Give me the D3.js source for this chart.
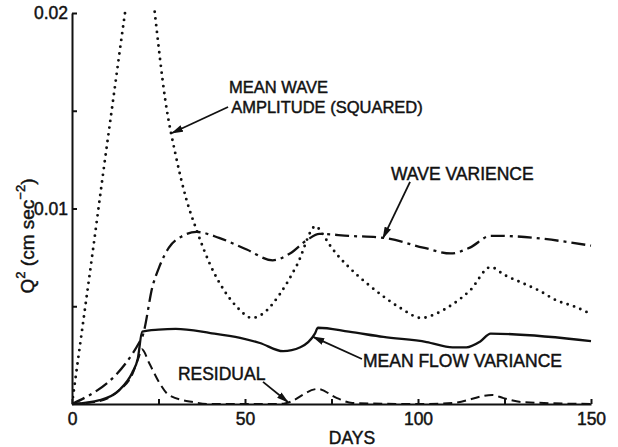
<!DOCTYPE html>
<html><head><meta charset="utf-8">
<script src="https://cdn.jsdelivr.net/npm/d3@7"></script>
<style>
html,body{margin:0;padding:0;background:#fff;}
text{font-family:"Liberation Sans",Arial,sans-serif;fill:#111;stroke:#111;stroke-width:0.45px;}
</style></head>
<body><svg id="c" width="618" height="447"></svg>
<script>
// ---- data (days, Q^2 in cm^2 sec^-2) ----
const waveAmpDays = [0,3,6,9,12,15,18,20,22,24,27,30,33,36,40,44,48,52,55,60,65,70.5,72,75,80,85,90,95,101,105,110,115,121,125,130,135,140,145,150];
const waveAmpVals = [0,0.0039,0.0078,0.0118,0.0157,0.0196,0.0232,0.025,0.0232,0.0199,0.0155,0.0127,0.0105,0.0089,0.0071,0.0058,0.0049,0.0044,0.0046,0.0056,0.0071,0.0091,0.0088,0.0080,0.0070,0.0062,0.0055,0.0049,0.0044,0.0046,0.0051,0.0058,0.0070,0.0066,0.0062,0.0058,0.0053,0.0050,0.0046];

const waveVarDays = [0,20.2,23.4,25.2,28,32,36,42.5,50.5,58,63,68,71.5,80,90,101.5,109.5,115,121,123,150];
const waveVarVals = [0,0.0034,0.0061,0.0070,0.0080,0.0086,0.0088,0.0085,0.0079,0.00735,0.0077,0.0084,0.0087,0.0086,0.0085,0.0080,0.0077,0.0080,0.0086,0.0086,0.0081];

const meanFlowDays = [0,8,13.6,17.4,19,20.3,25,30,40,48.6,54.3,61,66,70.2,71.1,80,90,102.5,110,114,118,121,150];
const meanFlowVals = [0,0.0002,0.0007,0.0016,0.0023,0.0037,0.0038,0.00384,0.00363,0.00338,0.00312,0.0027,0.0029,0.0036,0.0039,0.0037,0.00343,0.00317,0.0029,0.0029,0.0032,0.0036,0.00322];

const residualDays = [0,8,13.6,17.4,19.3,20.2,22.3,25.2,28,35,40,60,62,71,76.6,81,100,110,121.5,124.7,130,150];
const residualVals = [0,0.00015,0.0007,0.0015,0.0024,0.0028,0.0021,0.0011,0.00046,0.0001,0,0,0.00005,0.00077,0.0003,0.00005,0,0.00005,0.00046,0.0003,0.0001,0];

const xTicks = [0,25,50,75,100,125,150];
const xTickLabels = ["0","","50","","100","","150"];
const yTicks = [0.005,0.01,0.015,0.02];
const yTickLabels = ["","0.01","","0.02"];

const labelTexts = ["MEAN WAVE","AMPLITUDE (SQUARED)","WAVE VARIENCE","MEAN FLOW VARIANCE","RESIDUAL"];
const labelDays  = [45.4,46.0,92.2,84.1,30.6];
const labelVals  = [0.01591,0.01489,0.01146,0.00189,0.00123];
// arrows: start (day,val) -> tip (day,val)
const arrowFrom = [[45.1,0.01519],[97.7,0.01136],[83.8,0.0023],[55.2,0.00113]];
const arrowTo   = [[28.9,0.01386],[89.9,0.00849],[69.7,0.00343],[62.4,0.0001]];

// ---- layout ----
const svg = d3.select("#c");
const x = d3.scaleLinear().domain([0,150]).range([72,591]);
const y = d3.scaleLinear().domain([0,0.02]).range([404,13]);

const defs = svg.append("defs");
defs.append("clipPath").attr("id","clip")
  .append("rect").attr("x",72).attr("y",8).attr("width",525).attr("height",400);
defs.append("marker").attr("id","ah").attr("viewBox","0 0 12 8")
  .attr("refX",11).attr("refY",4).attr("markerWidth",12).attr("markerHeight",8)
  .attr("markerUnits","userSpaceOnUse").attr("orient","auto")
  .append("path").attr("d","M0,0.5 L12,4 L0,7.5 Z").attr("fill","#111");

const line = d3.line().x(d=>x(d[0])).y(d=>y(d[1])).curve(d3.curveMonotoneX);
const zip = (a,b)=>a.map((v,i)=>[v,b[i]]);

const g = svg.append("g").attr("clip-path","url(#clip)");
g.append("path").datum(zip(waveAmpDays,waveAmpVals)).attr("d",line)
  .attr("fill","none").attr("stroke","#111").attr("stroke-width",2.9)
  .attr("stroke-linecap","round").attr("stroke-dasharray","0,6.8");
g.append("path").datum(zip(waveVarDays,waveVarVals)).attr("d",line)
  .attr("fill","none").attr("stroke","#111").attr("stroke-width",2.3)
  .attr("stroke-dasharray","14,5,3,5");
g.append("path").datum(zip(meanFlowDays,meanFlowVals)).attr("d",line)
  .attr("fill","none").attr("stroke","#111").attr("stroke-width",2.3);
g.append("path").datum(zip(residualDays,residualVals)).attr("d",line)
  .attr("fill","none").attr("stroke","#111").attr("stroke-width",2)
  .attr("stroke-dasharray","9,5");

// axes
const xAxis = d3.axisBottom(x).tickValues(xTicks).tickSizeInner(-5).tickSizeOuter(0)
  .tickPadding(9).tickFormat((d,i)=>xTickLabels[i]);
const yAxis = d3.axisLeft(y).tickValues(yTicks).tickSizeInner(-5).tickSizeOuter(0)
  .tickPadding(4).tickFormat((d,i)=>yTickLabels[i]);
const gx = svg.append("g").attr("transform","translate(0,404)").call(xAxis);
const gy = svg.append("g").attr("transform","translate(72,0)").call(yAxis);
[gx,gy].forEach(a=>{
  a.selectAll("path,line").attr("stroke","#111").attr("stroke-width",2);
  a.selectAll("text").attr("font-size",17.5).attr("font-family","Liberation Sans, Arial, sans-serif").attr("fill","#111");
});

// axis titles
svg.append("text").attr("x",352).attr("y",444).attr("text-anchor","middle")
  .attr("font-size",17.5).text("DAYS");
const yl = svg.append("text").attr("transform","translate(34,236) rotate(-90)")
  .attr("text-anchor","middle").attr("font-size",19);
yl.append("tspan").text("Q");
yl.append("tspan").attr("font-size",13).attr("dy",-9).text("2");
yl.append("tspan").attr("dy",9).text(" (cm sec");
yl.append("tspan").attr("font-size",13).attr("dy",-9).text("−2");
yl.append("tspan").attr("dy",9).text(")");

// annotations
labelTexts.forEach((t,i)=>{
  svg.append("text").attr("x",x(labelDays[i])).attr("y",y(labelVals[i]))
    .attr("font-size",i<2?16.5:17.5).text(t);
});
arrowFrom.forEach((f,i)=>{
  const tp = arrowTo[i];
  svg.append("line").attr("x1",x(f[0])).attr("y1",y(f[1]))
    .attr("x2",x(tp[0])).attr("y2",y(tp[1]))
    .attr("stroke","#111").attr("stroke-width",1.8).attr("marker-end","url(#ah)");
});
</script></body></html>
